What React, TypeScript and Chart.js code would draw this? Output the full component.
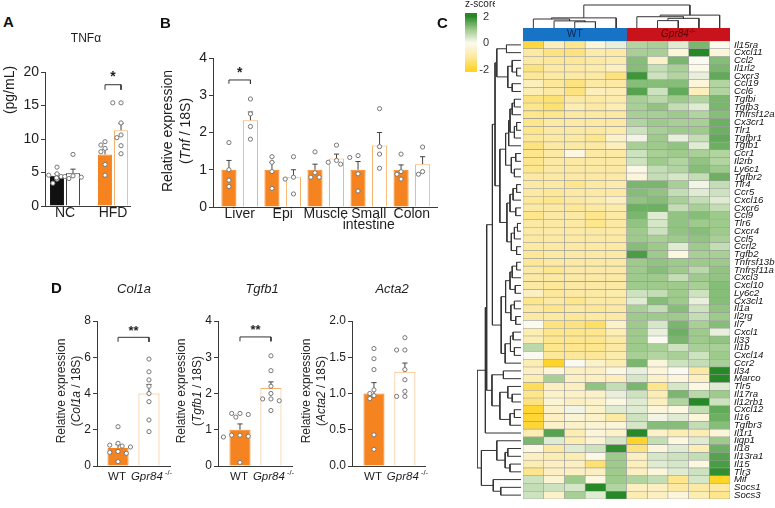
import React, { useEffect, useRef } from 'react';
import { Chart, registerables } from 'chart.js';

Chart.register(...registerables);

const FAM = "'Liberation Sans', Arial, Helvetica, sans-serif";
const ORANGE = '#F5831F';
const ORANGE_EDGE = '#F7B26A';
const AXIS = '#3a3a3a';
const TXT = '#1e1e1e';

// ---------------- Panel A : TNFα (pg/mL) ----------------
const A_GROUPS = ['NC', 'HFD'];
const A_MEANS = [4.5, 4.9, 7.7, 11.3];
const A_SEMS = [0.35, 0.6, 0.75, 1.0];
const A_PTS_NC_WT = [5.8, 4.8, 4.6, 4.4, 4.0, 3.4];
const A_PTS_NC_KO = [7.7, 4.5, 4.4, 4.3, 4.1, 4.2];
const A_PTS_HFD_WT = [9.6, 9.1, 8.6, 8.1, 6.2, 4.6];
const A_PTS_HFD_KO = [15.4, 15.4, 12.4, 10.6, 10.2, 9.0, 7.8];
const A_Y_TICKS = [0, 5, 10, 15, 20];

// ---------------- Panel B : Tnf / 18S per tissue ----------------
const B_TISSUES: (string | string[])[] = ['Liver', 'Epi', 'Muscle', ['Small', 'intestine'], 'Colon'];
const B_MEANS = [1.0, 2.33, 1.0, 0.8, 1.0, 1.3, 1.0, 1.65, 1.0, 1.15];
const B_SEMS = [0.25, 0.22, 0.2, 0.2, 0.15, 0.12, 0.22, 0.35, 0.13, 0.2];
const B_POINTS = [
  [1.73, 1.0, 0.72, 0.55],
  [2.9, 2.5, 2.16, 1.82],
  [1.35, 1.2, 0.95, 0.5],
  [1.35, 0.8, 0.75, 0.35],
  [1.48, 0.92, 0.8, 0.8],
  [1.66, 1.25, 1.2, 1.15],
  [1.38, 1.33, 0.89, 0.43],
  [2.64, 1.62, 1.42, 1.04],
  [1.42, 0.95, 0.88, 0.75],
  [1.61, 0.95, 0.88],
];
const B_Y_TICKS = [0, 1, 2, 3, 4];

// ---------------- Panel D ----------------
const D_GROUPS = ['WT', 'Gpr84'];
const D1_MEANS = [1.0, 4.0];
const D1_SEMS = [0.18, 0.5];
const D1_POINTS = [
  [2.17, 1.25, 1.15, 1.1, 1.05, 0.8, 0.75, 0.7, 0.24],
  [5.9, 5.2, 4.75, 4.4, 4.0, 3.55, 2.54, 1.9],
];
const D1_Y_TICKS = [0, 2, 4, 6, 8];
const D2_MEANS = [1.0, 2.15];
const D2_SEMS = [0.16, 0.17];
const D2_POINTS = [
  [1.45, 1.45, 1.42, 1.35, 0.85, 0.85, 0.82, 0.8, 0.1],
  [3.04, 2.63, 2.2, 2.0, 1.85, 1.85, 1.8, 1.53],
];
const D2_Y_TICKS = [0, 1, 2, 3, 4];
const D3_MEANS = [1.0, 1.3];
const D3_SEMS = [0.15, 0.12];
const D3_POINTS = [
  [1.62, 1.48, 1.33, 1.05, 1.0, 0.97, 0.93, 0.43, 0.23],
  [1.77, 1.6, 1.6, 1.33, 1.19, 1.03, 0.96, 0.96],
];
const D3_Y_TICKS = [0, 0.5, 1.0, 1.5, 2.0];

// ---------------- Panel C : heatmap ----------------
const HM_COLS = ['WT1', 'WT2', 'WT3', 'WT4', 'WT5', 'KO1', 'KO2', 'KO3', 'KO4', 'KO5'];
const HM_GROUPS = ['WT', 'Gpr84'];
const HM_GENES = [
  'Il15ra', 'Cxcl11', 'Ccl2', 'Il1rl2', 'Cxcr3', 'Ccl19', 'Ccl6', 'Tgfbi', 'Tgfb3', 'Tnfrsf12a',
  'Cx3cr1', 'Tlr1', 'Tgfbr1', 'Tgfb1', 'Ccr1', 'Il2rb', 'Ly6c1', 'Tgfbr2', 'Tlr4', 'Ccr5',
  'Cxcl16', 'Cxcr6', 'Ccl9', 'Tlr6', 'Cxcr4', 'Ccl5', 'Ccrl2', 'Tgfb2', 'Tnfrsf13b', 'Tnfrsf11a',
  'Cxcl3', 'Cxcl10', 'Ly6c2', 'Cx3cl1', 'Il1a', 'Il2rg', 'Il7', 'Cxcl1', 'Il33', 'Il1b',
  'Cxcl14', 'Ccr2', 'Il34', 'Marco', 'Tlr5', 'Il17ra', 'Il12rb1', 'Cxcl12', 'Il16', 'Tgfbr3',
  'Il1r1', 'Iigp1', 'Il18', 'Il13ra1', 'Il15', 'Tlr3', 'Mif', 'Socs1', 'Socs3',
];
const HM_Z: number[][] = [
  [-1.8, -0.7, -1.2, -0.3, 0.2, 0.8, 0.9, 0.3, 1.3, 0.0],
  [-1.0, -1.3, -1.3, -0.9, -1.0, 0.9, 0.9, -0.3, 2.0, -0.3],
  [-1.0, -1.1, -1.1, -1.0, -0.9, 1.2, -0.5, 1.3, 0.0, 1.2],
  [-1.3, -1.0, -1.0, -0.9, -0.6, 1.2, 0.6, 0.9, -0.1, 1.3],
  [-1.1, -1.0, -1.0, -1.0, -1.3, 1.8, 0.5, 0.8, 0.2, 1.5],
  [-0.7, -1.1, -1.3, -1.0, -1.0, 1.2, 1.2, 1.2, -0.3, 0.8],
  [-0.8, -1.0, -1.3, -0.7, -0.8, 1.6, 0.5, 1.5, -0.7, 0.8],
  [-1.3, -1.4, -1.0, -1.0, -0.9, 0.9, 0.7, 1.0, 0.8, 1.3],
  [-1.2, -1.4, -0.8, -1.0, -0.8, 0.9, 1.1, 0.6, 0.3, 1.3],
  [-1.2, -1.2, -1.0, -1.0, -1.0, 0.9, 0.9, 1.0, 0.8, 1.2],
  [-1.2, -1.0, -1.0, -1.0, -1.0, 0.8, 1.0, 0.9, 0.9, 1.4],
  [-1.2, -1.0, -1.0, -1.0, -0.9, 0.5, 0.9, 1.0, 1.0, 1.4],
  [-1.1, -1.0, -1.0, -1.2, -0.5, 0.1, 1.0, 0.2, 0.6, 1.5],
  [-1.3, -1.0, -1.0, -1.0, -0.7, 0.9, 1.0, 1.1, 0.3, 1.4],
  [-1.2, -1.0, -0.2, -1.0, -1.0, 0.5, 0.9, 1.0, 0.9, 0.8],
  [-1.2, -1.0, -1.0, -1.0, -1.0, 0.5, 1.0, 0.8, 1.1, 0.8],
  [-1.2, -1.0, -1.0, -1.0, -1.0, -0.1, 0.6, 0.8, 1.2, 1.0],
  [-1.0, -1.0, -1.0, -1.0, -1.0, -0.3, 0.6, 0.4, 0.6, 1.4],
  [-1.0, -1.0, -1.2, -1.0, -0.9, 1.3, 1.3, 0.9, 0.1, 0.6],
  [-1.0, -1.1, -1.0, -1.0, -1.0, 1.2, 1.1, 0.6, 0.3, 0.5],
  [-1.1, -1.2, -1.0, -0.9, -0.6, 1.1, 1.2, 0.9, 0.6, 0.3],
  [-1.0, -1.0, -1.1, -1.0, -0.9, 1.4, 1.4, 0.6, 0.9, 0.6],
  [-1.2, -1.0, -1.0, -1.2, -1.0, 1.3, 0.3, 1.1, 1.2, 1.0],
  [-1.0, -1.0, -1.0, -1.2, -1.0, 1.1, 0.4, 1.1, 1.0, 1.0],
  [-1.0, -1.0, -1.0, -1.0, -1.0, 1.0, 0.5, 1.1, 1.2, 1.0],
  [-1.0, -1.0, -1.0, -1.0, -1.0, 1.0, 0.9, 1.0, 1.1, 0.9],
  [-1.0, -1.0, -1.0, -1.0, -1.0, 1.2, 1.0, 0.3, 1.0, 0.6],
  [-1.1, -1.0, -1.0, -1.0, -1.0, 1.7, 1.0, -0.2, 0.9, 0.9],
  [-1.1, -1.0, -1.0, -1.0, -1.0, 1.0, 1.1, 1.0, 1.0, 1.0],
  [-1.0, -1.2, -1.0, -1.0, -1.0, 1.0, 1.2, 1.0, 0.7, 1.1],
  [-1.0, -1.0, -1.0, -1.0, -1.0, 1.0, 1.0, 0.6, 1.0, 1.1],
  [-1.0, -1.1, -1.0, -1.0, -1.0, 1.0, 1.0, 1.0, 0.9, 1.2],
  [-0.6, -1.1, -1.0, -1.0, -0.9, 0.5, 0.6, 1.0, 0.5, 1.2],
  [-1.2, -1.0, -1.2, -1.0, -1.0, 0.3, 1.2, 1.0, 0.2, 1.2],
  [-1.0, -1.2, -1.0, -1.1, -1.0, 0.9, 0.6, 1.2, 0.5, 1.1],
  [-1.0, -1.0, -1.1, -1.0, -1.0, 1.0, 1.0, 1.0, 0.6, 1.0],
  [0.0, -1.3, -1.3, -1.5, -0.5, 1.0, 0.4, 1.3, 0.9, 1.2],
  [-0.8, -1.2, -1.2, -1.2, -0.8, 1.0, 0.2, 1.4, 1.0, 0.2],
  [-0.8, -1.2, -1.2, -1.2, -1.0, 1.0, 0.0, 1.3, 1.0, 1.1],
  [0.7, -1.2, -1.2, -1.2, -1.0, 1.0, 0.9, 0.5, 0.9, 0.9],
  [0.0, -1.1, -1.1, -1.1, -0.9, 0.9, 0.8, 0.9, 0.5, 1.0],
  [-0.8, -2.0, 0.0, -0.5, -0.8, 1.3, -0.3, 0.5, 0.6, 0.9],
  [-0.6, -0.3, -0.6, -0.6, -0.2, 0.2, -0.3, 0.0, -1.0, 2.0],
  [-0.8, 0.9, -0.6, -0.6, -0.7, 0.4, -0.5, -0.3, -0.6, 2.0],
  [-1.6, -0.6, -0.6, 1.1, 0.6, 1.3, -1.2, 0.4, -0.2, 0.3],
  [-1.2, -0.5, -0.5, -0.5, 0.2, 0.5, -0.8, 1.3, 0.7, 1.0],
  [-1.3, -0.4, -0.6, -0.5, -0.2, 0.3, -0.6, 0.8, 2.0, 0.5],
  [-1.9, -0.5, 0.1, -0.5, 0.3, 0.3, -0.3, -0.2, 0.6, 1.5],
  [-1.9, -0.6, -0.4, -0.5, -1.0, 0.5, 0.1, 0.3, -0.3, 1.4],
  [-1.9, -0.5, -0.5, -0.4, -0.3, 0.4, 1.2, 1.2, 0.6, 1.2],
  [-0.8, 1.6, -0.8, -0.3, -0.5, 2.0, -0.5, -0.8, -0.8, -0.3],
  [1.3, 0.3, -0.8, -0.4, 0.4, -2.0, 0.6, -0.2, 0.3, 1.0],
  [-0.2, -1.0, 0.3, 0.5, 1.9, -1.3, -0.3, 0.3, -0.8, 1.4],
  [-0.6, -0.8, -0.8, -0.1, 1.0, -0.6, 0.4, 0.5, 0.6, 1.6],
  [-0.8, -0.6, -0.6, -1.4, 1.0, -0.7, 0.3, 0.4, -0.2, 1.7],
  [-1.2, -0.6, -0.6, -0.6, 1.0, -0.6, -0.3, 0.3, 0.5, 1.9],
  [0.5, -0.4, 1.0, -0.2, 1.0, 0.8, 0.6, -1.2, 0.4, -2.0],
  [0.6, 0.5, 0.4, 2.0, 0.8, -0.6, -0.6, -1.0, -1.0, -1.0],
  [0.5, -0.5, 0.9, 0.3, 2.0, -0.8, -0.6, -0.3, -0.8, -1.2],
];
const Z_TICKS = [-2, -1, 0, 1, 2];

// dendrograms: leaf = index, node = [left, right, height]
type TNode = number | [TNode, TNode, number];
const ROW_TREE: TNode = [
  [
    [
      [
        [
          [[0, 1, 3.3], [[2, [3, 4, 1.0], 2.0], [5, 6, 2.0], 3.0], 5.5],
          [
            [[[[[7, 8, 1.5], 9, 2.0], [[10, 11, 1.0], 12, 1.5], 2.5], 13, 2.8], [[14, 15, 1.2], [16, 17, 1.5], 2.2], 3.5],
            [[[[18, 19, 1.0], 20, 1.8], [21, 22, 1.2], 2.5], [[[23, 24, 0.8], 25, 1.5], [26, 27, 1.0], 2.2], 3.2],
            4.8,
          ],
          5.9,
        ],
        [
          [[[[28, 29, 1.0], 30, 2.0], [31, 32, 1.3], 2.5], [[33, 34, 1.5], [35, 36, 1.2], 2.3], 3.5],
          [[[37, 38, 1.8], [39, 40, 1.5], 2.4], 41, 3.6],
          4.5,
        ],
        6.5,
      ],
      [[42, 43, 4.0], [[44, [45, 46, 2.0], 3.0], [[47, 48, 1.5], 49, 2.5], 4.8], 6.6],
      7.8,
    ],
    50,
    8.1,
  ],
  [[51, [[52, 53, 3.0], [54, 55, 2.5], 3.6], 5.5], [56, [57, 58, 4.6], 6.3], 9.0],
  10,
];
const COL_TREE: TNode = [
  [[0, [1, [2, 3, 2.7], 3.1], 3.9], 4, 4.4],
  [[5, [[6, 7, 3.2], 8, 4.2], 4.9], 9, 5.6],
  10,
];

// ---------------- helpers ----------------
const Z_STOPS: [number, number[]][] = [
  [-2, [255, 212, 40]],
  [-1, [252, 234, 164]],
  [0, [251, 250, 240]],
  [1, [158, 202, 140]],
  [2, [38, 136, 38]],
];
function zColor(z: number): string {
  const v = Math.max(-2, Math.min(2, z));
  for (let i = 0; i < Z_STOPS.length - 1; i++) {
    const [a, ca] = Z_STOPS[i];
    const [b, cb] = Z_STOPS[i + 1];
    if (v <= b) {
      const t = (v - a) / (b - a);
      const c = ca.map((x, k) => Math.round(x + (cb[k] - x) * t));
      return `rgb(${c[0]},${c[1]},${c[2]})`;
    }
  }
  return 'rgb(38,136,38)';
}

function treeLines(node: TNode, out: { p: number; h: number }[]): { p: number; h: number } {
  if (typeof node === 'number') return { p: node, h: 0 };
  const a = treeLines(node[0], out);
  const b = treeLines(node[1], out);
  const H = node[2];
  out.push({ p: a.p, h: a.h }, { p: a.p, h: H }, { p: b.p, h: H }, { p: b.p, h: b.h }, { p: NaN, h: NaN });
  return { p: (a.p + b.p) / 2, h: H };
}

function swarm(vals: number[], pxX: number, pxY: number, d: number): number[] {
  const placed: { x: number; y: number }[] = [];
  return vals.map((v) => {
    const y = v * pxY;
    let chosen = 0;
    for (let k = 0; k < 30; k++) {
      const off = (k === 0 ? 0 : Math.ceil(k / 2) * (k % 2 ? -1 : 1)) * d * 0.9;
      if (placed.every((q) => Math.hypot(q.x - off, q.y - y) >= d)) {
        chosen = off;
        break;
      }
    }
    placed.push({ x: chosen, y });
    return chosen / pxX;
  });
}

type Run = { text: string; font: string; dy?: number };
type TextItem = {
  x?: number; xd?: number; y?: number; yd?: number; dx?: number;
  runs: Run[]; color?: string; align?: 'left' | 'center' | 'right'; rotate?: boolean;
};
function textPlugin(items: TextItem[], offX: number, offY: number) {
  return {
    id: 'texts',
    afterDraw(chart: any) {
      const ctx = chart.ctx;
      ctx.save();
      for (const it of items) {
        const px = (it.xd !== undefined ? chart.scales.x.getPixelForValue(it.xd) : (it.x as number) - offX) + (it.dx || 0);
        const py = it.yd !== undefined ? chart.scales.y.getPixelForValue(it.yd) : (it.y as number) - offY;
        if (!isFinite(px) || !isFinite(py)) continue;
        ctx.save();
        ctx.translate(px, py);
        if (it.rotate) ctx.rotate(-Math.PI / 2);
        ctx.fillStyle = it.color || TXT;
        ctx.textBaseline = 'middle';
        ctx.textAlign = 'left';
        let total = 0;
        const widths = it.runs.map((r) => {
          ctx.font = r.font;
          const w = ctx.measureText(r.text).width;
          total += w;
          return w;
        });
        let x0 = it.align === 'left' ? 0 : it.align === 'right' ? -total : -total / 2;
        it.runs.forEach((r, i) => {
          ctx.font = r.font;
          ctx.fillText(r.text, x0, r.dy || 0);
          x0 += widths[i];
        });
        ctx.restore();
      }
      ctx.restore();
    },
  };
}

const f = (size: number, style = '') => `${style} ${size}px ${FAM}`.trim();

interface BarPanel {
  cx: number; cy: number; cw: number; ch: number;
  l: number; t: number; r: number; b: number;
  xMin: number; xMax: number; yMax: number; yTicks: number[]; yFmt: (v: number) => string;
  barX: number[]; means: number[]; sems: number[]; points: number[][];
  fills: string[]; edges: string[]; barPct: number;
  xTicks: number[]; xLabels: (string | string[])[]; showXLabels: boolean; xH: number;
  fontSize: number;
  brackets: { a: number; b: number; y: number; drop: number; label: string; ly: number; size: number }[];
  texts: TextItem[];
}

function makeBarConfig(p: BarPanel): any {
  const pxX = (p.r - p.l) / (p.xMax - p.xMin);
  const pxY = (p.b - p.t) / p.yMax;
  const cap = 2.6 / pxX;
  const err: any[] = [];
  p.barX.forEach((x, i) => {
    const m = p.means[i], s = p.sems[i];
    err.push({ x, y: m }, { x, y: m + s }, { x, y: NaN }, { x: x - cap, y: m + s }, { x: x + cap, y: m + s }, { x, y: NaN });
  });
  const br: any[] = [];
  const texts: TextItem[] = [...p.texts];
  p.brackets.forEach((k) => {
    const xa = p.barX[k.a], xb = p.barX[k.b];
    br.push({ x: xa, y: k.y - k.drop }, { x: xa, y: k.y }, { x: xb, y: k.y }, { x: xb, y: k.y - k.drop }, { x: xb, y: NaN });
    texts.push({ xd: (xa + xb) / 2, yd: k.ly, runs: [{ text: k.label, font: f(k.size, 'bold') }] });
  });
  const pts: any[] = [];
  p.points.forEach((vals, i) => {
    const offs = swarm(vals, pxX, pxY, 4.6);
    vals.forEach((v, j) => pts.push({ x: p.barX[i] + offs[j], y: v }));
  });
  const yW = p.l - p.cx;
  return {
    type: 'bar',
    data: {
      datasets: [
        { type: 'scatter', data: pts, pointRadius: 2.1, pointHoverRadius: 2.1, pointBackgroundColor: '#ffffff', pointBorderColor: '#777777', pointBorderWidth: 1, order: 0 },
        { type: 'line', data: br, borderColor: '#333333', borderWidth: 1, pointRadius: 0, spanGaps: false, fill: false, order: 1 },
        { type: 'line', data: err, borderColor: '#444444', borderWidth: 1, pointRadius: 0, spanGaps: false, fill: false, order: 1 },
        {
          type: 'bar',
          data: p.barX.map((x, i) => ({ x, y: p.means[i] })),
          backgroundColor: p.fills, borderColor: p.edges, borderWidth: 1,
          barPercentage: p.barPct, categoryPercentage: 1, order: 2,
        },
      ],
    },
    options: {
      responsive: false, animation: false, devicePixelRatio: 1,
      events: [],
      layout: { padding: { left: 0, top: p.t - p.cy, right: p.cx + p.cw - p.r, bottom: p.cy + p.ch - p.b - p.xH } },
      plugins: { legend: { display: false }, tooltip: { enabled: false } },
      scales: {
        x: {
          type: 'linear', min: p.xMin, max: p.xMax, offset: false,
          afterBuildTicks: (s: any) => { s.ticks = p.xTicks.map((v) => ({ value: v })); },
          afterFit: (s: any) => { s.height = p.xH; },
          grid: { display: false, drawTicks: false, offset: false },
          border: { display: true, color: AXIS, width: 1 },
          ticks: {
            display: p.showXLabels, autoSkip: false, maxRotation: 0, padding: 1,
            callback: (_v: any, i: number) => p.xLabels[i],
            font: { family: FAM, size: p.fontSize, lineHeight: 0.82 }, color: TXT,
          },
        },
        y: {
          type: 'linear', min: 0, max: p.yMax,
          afterBuildTicks: (s: any) => { s.ticks = p.yTicks.map((v) => ({ value: v })); },
          afterFit: (s: any) => { s.width = yW; },
          grid: { display: true, drawOnChartArea: false, drawTicks: true, tickLength: 4, color: AXIS },
          border: { display: true, color: AXIS, width: 1 },
          ticks: { padding: 2, callback: (v: any) => p.yFmt(Number(v)), font: { family: FAM, size: p.fontSize }, color: TXT },
        },
      },
    },
    plugins: [textPlugin(texts, p.cx, p.cy)],
  };
}

const dLabel = (xd: number, i: number, size: number): TextItem =>
  i === 0
    ? { xd, y: 477, dx: -1, runs: [{ text: D_GROUPS[0], font: f(size) }] }
    : { xd, y: 477, dx: 2.5, runs: [{ text: D_GROUPS[1], font: f(size, 'italic') }, { text: ' -/-', font: f(7.5), dy: -4 }] };

const yTitle2 = (x1: number, x2: number, y: number, gene: string, size: number): TextItem[] => [
  { x: x1, y, rotate: true, runs: [{ text: 'Relative expression', font: f(size) }] },
  { x: x2, y, rotate: true, runs: [{ text: '(', font: f(size) }, { text: gene, font: f(size, 'italic') }, { text: ' / 18S)', font: f(size) }] },
];

function panelA(): any {
  return makeBarConfig({
    cx: 0, cy: 30, cw: 140, ch: 200, l: 45, t: 72, r: 130, b: 206,
    xMin: -0.75, xMax: 4.56, yMax: 20, yTicks: A_Y_TICKS, yFmt: (v) => String(v),
    barX: [0, 1, 3, 4], means: A_MEANS, sems: A_SEMS,
    points: [A_PTS_NC_WT, A_PTS_NC_KO, A_PTS_HFD_WT, A_PTS_HFD_KO],
    fills: ['#111111', '#ffffff', ORANGE, '#ffffff'], edges: ['#111111', '#333333', ORANGE, ORANGE_EDGE], barPct: 0.88,
    xTicks: [0.5, 3.5], xLabels: A_GROUPS, showXLabels: true, xH: 22, fontSize: 14,
    brackets: [{ a: 2, b: 3, y: 18.1, drop: 0.75, label: '*', ly: 19.3, size: 14 }],
    texts: [
      { x: 86, y: 39, runs: [{ text: 'TNFα', font: f(12) }] },
      { x: 10, y: 90, rotate: true, runs: [{ text: '(pg/mL)', font: f(14) }] },
    ],
  });
}

function panelB(): any {
  return makeBarConfig({
    cx: 150, cy: 30, cw: 297, ch: 215, l: 213, t: 58, r: 437, b: 207,
    xMin: -0.74, xMax: 9.67, yMax: 4, yTicks: B_Y_TICKS, yFmt: (v) => String(v),
    barX: [0, 1, 2, 3, 4, 5, 6, 7, 8, 9], means: B_MEANS, sems: B_SEMS, points: B_POINTS,
    fills: B_MEANS.map((_, i) => (i % 2 ? '#ffffff' : ORANGE)),
    edges: B_MEANS.map((_, i) => (i % 2 ? ORANGE_EDGE : ORANGE)), barPct: 0.7,
    xTicks: [0.5, 2.5, 4.5, 6.5, 8.5], xLabels: B_TISSUES, showXLabels: true, xH: 30, fontSize: 14,
    brackets: [{ a: 0, b: 1, y: 3.41, drop: 0.1, label: '*', ly: 3.6, size: 14 }],
    texts: yTitle2(168, 186, 131, 'Tnf', 14),
  });
}

function panelD(
  cx: number, cw: number, l: number, r: number, xMin: number, xMax: number, yMax: number,
  yTicks: number[], yFmt: (v: number) => string, means: number[], sems: number[], points: number[][],
  gene: string, titleX: number, t1: number, t2: number,
  brackets: BarPanel['brackets'],
): any {
  return makeBarConfig({
    cx, cy: 275, cw, ch: 225, l, t: 321, r, b: 466,
    xMin, xMax, yMax, yTicks, yFmt, barX: [0, 1], means, sems, points,
    fills: [ORANGE, '#ffffff'], edges: [ORANGE, ORANGE_EDGE], barPct: 0.68,
    xTicks: [0, 1], xLabels: ['', ''], showXLabels: false, xH: 20, fontSize: 12,
    brackets,
    texts: [
      { x: titleX, y: 289, runs: [{ text: gene, font: f(13, 'italic') }] },
      ...yTitle2(t1, t2, 391, gene, 12),
      dLabel(0, 0, 11.5),
      dLabel(1, 1, 11.5),
    ],
  });
}

function heatmapConfig(): any {
  return {
    type: 'bar',
    data: {
      labels: HM_GENES,
      datasets: HM_COLS.map((_, c) => ({
        data: HM_GENES.map(() => [c, c + 1]),
        backgroundColor: HM_GENES.map((_g, r) => zColor(HM_Z[r][c])),
        borderColor: '#9c9c9c', borderWidth: 0.6, borderSkipped: false,
        barPercentage: 1, categoryPercentage: 1, grouped: false,
      })),
    },
    options: {
      indexAxis: 'y', responsive: false, animation: false, devicePixelRatio: 1, events: [],
      layout: { padding: { left: 3, top: 11, right: 0, bottom: 11 } },
      plugins: { legend: { display: false }, tooltip: { enabled: false } },
      scales: {
        x: { type: 'linear', min: 0, max: 10, display: false },
        y: {
          type: 'category', position: 'right',
          afterFit: (s: any) => { s.width = 45; },
          grid: { display: false, drawTicks: false }, border: { display: false },
          ticks: { autoSkip: false, padding: 4, font: { family: FAM, size: 9.6, style: 'italic', lineHeight: 1 }, color: '#111' },
        },
      },
    },
  };
}

function rowDendroConfig(): any {
  const out: { p: number; h: number }[] = [];
  treeLines(ROW_TREE, out);
  return {
    type: 'scatter',
    data: { datasets: [{ data: out.map((q) => ({ x: q.h, y: q.p })), showLine: true, borderColor: '#333', borderWidth: 1, pointRadius: 0, spanGaps: false }] },
    options: {
      responsive: false, animation: false, devicePixelRatio: 1, events: [],
      layout: { padding: { left: 7, top: 11, right: 4, bottom: 11 } },
      plugins: { legend: { display: false }, tooltip: { enabled: false } },
      scales: {
        x: { type: 'linear', min: 0, max: 10, reverse: true, display: false },
        y: { type: 'linear', min: -0.5, max: HM_GENES.length - 0.5, reverse: true, display: false },
      },
    },
  };
}

function colDendroConfig(): any {
  const out: { p: number; h: number }[] = [];
  treeLines(COL_TREE, out);
  return {
    type: 'scatter',
    data: { datasets: [{ data: out.map((q) => ({ x: q.p + 0.5, y: q.h })), showLine: true, borderColor: '#333', borderWidth: 1, pointRadius: 0, spanGaps: false, clip: 4 }] },
    options: {
      responsive: false, animation: false, devicePixelRatio: 1, events: [],
      layout: { padding: { left: 8, top: 5, right: 10, bottom: 4 } },
      plugins: { legend: { display: false }, tooltip: { enabled: false } },
      scales: {
        x: { type: 'linear', min: 0, max: 10, display: false },
        y: { type: 'linear', min: 0, max: 10, display: false },
      },
    },
  };
}

function headerConfig(): any {
  return {
    type: 'bar',
    data: {
      labels: ['group'],
      datasets: [
        { data: [[0, 5]], backgroundColor: '#1673C6', borderWidth: 0, barPercentage: 1, categoryPercentage: 1, grouped: false },
        { data: [[5, 10]], backgroundColor: '#C8121C', borderWidth: 0, barPercentage: 1, categoryPercentage: 1, grouped: false },
      ],
    },
    options: {
      indexAxis: 'y', responsive: false, animation: false, devicePixelRatio: 1, events: [],
      layout: { padding: { left: 8, top: 3, right: 10, bottom: 4 } },
      plugins: { legend: { display: false }, tooltip: { enabled: false } },
      scales: { x: { type: 'linear', min: 0, max: 10, display: false }, y: { display: false } },
    },
    plugins: [
      textPlugin(
        [
          { xd: 2.5, yd: 0, color: '#0c2550', runs: [{ text: HM_GROUPS[0], font: f(10) }] },
          { xd: 7.5, yd: 0, color: '#5a0508', runs: [{ text: HM_GROUPS[1], font: f(10, 'italic') }, { text: '-/-', font: f(7), dy: -3 }] },
        ],
        515, 25,
      ),
    ],
  };
}

// colour-bar legend: a stack of thin floating bars along the z range
const CB_MIN = -2.15;
const CB_MAX = 2.26;
function colorbarConfig(): any {
  const n = 44;
  const step = (CB_MAX - CB_MIN) / n;
  const segs = Array.from({ length: n }, (_, i) => CB_MIN + i * step);
  return {
    type: 'bar',
    data: {
      labels: ['z'],
      datasets: segs.map((z0) => ({
        data: [[z0, z0 + step * 1.02]],
        backgroundColor: zColor(z0 + step / 2),
        borderWidth: 0, barPercentage: 1, categoryPercentage: 1, grouped: false,
      })),
    },
    options: {
      responsive: false, animation: false, devicePixelRatio: 1, events: [],
      layout: { padding: { left: 45, top: 13, right: 6, bottom: 13 } },
      plugins: { legend: { display: false }, tooltip: { enabled: false } },
      scales: {
        x: { display: false },
        y: {
          position: 'right', min: CB_MIN, max: CB_MAX,
          afterBuildTicks: (s: any) => { s.ticks = Z_TICKS.map((v) => ({ value: v })); },
          afterFit: (s: any) => { s.width = 12; },
          grid: { display: false, drawTicks: false }, border: { display: false },
          ticks: { crossAlign: 'far', padding: 0, font: { family: FAM, size: 11 }, color: '#333' },
        },
      },
    },
    plugins: [textPlugin([{ x: 465, y: 4, align: 'left', runs: [{ text: 'z-score', font: f(10) }] }], 420, 0)],
  };
}

function ChartCanvas(props: { left: number; top: number; width: number; height: number; make: () => any }) {
  const ref = useRef<HTMLCanvasElement>(null);
  useEffect(() => {
    let chart: Chart | null = null;
    try {
      chart = new Chart(ref.current as HTMLCanvasElement, props.make());
    } catch (e) {
      console.error(e);
    }
    return () => { if (chart) chart.destroy(); };
  }, []);
  return (
    <canvas
      ref={ref}
      width={props.width}
      height={props.height}
      style={{ position: 'absolute', left: props.left, top: props.top, width: props.width, height: props.height }}
    />
  );
}

const letter = (ch: string, left: number, baseline: number) => (
  <div
    key={ch}
    style={{ position: 'absolute', left, top: baseline - 12.7, font: `bold 15px ${FAM}`, lineHeight: '15px', color: '#111' }}
  >
    {ch}
  </div>
);

export default function App() {
  return (
    <div style={{ position: 'absolute', left: 0, top: 0, width: 775, height: 508, background: '#fff', overflow: 'hidden' }}>
      <ChartCanvas left={0} top={30} width={140} height={200} make={panelA} />
      <ChartCanvas left={150} top={30} width={297} height={215} make={panelB} />
      <ChartCanvas
        left={40} top={275} width={140} height={225}
        make={() => panelD(40, 140, 97, 170, -0.68, 1.68, 8, D1_Y_TICKS, (v) => String(v), D1_MEANS, D1_SEMS, D1_POINTS, 'Col1a', 134, 62, 77,
          [{ a: 0, b: 1, y: 7.1, drop: 0.25, label: '**', ly: 7.45, size: 13 }])}
      />
      <ChartCanvas
        left={175} top={275} width={127} height={225}
        make={() => panelD(175, 127, 218, 292, -0.71, 1.68, 4, D2_Y_TICKS, (v) => String(v), D2_MEANS, D2_SEMS, D2_POINTS, 'Tgfb1', 262, 182, 198,
          [{ a: 0, b: 1, y: 3.56, drop: 0.12, label: '**', ly: 3.74, size: 13 }])}
      />
      <ChartCanvas
        left={300} top={275} width={135} height={225}
        make={() => panelD(300, 135, 352, 425, -0.71, 1.65, 2, D3_Y_TICKS, (v) => v.toFixed(1), D3_MEANS, D3_SEMS, D3_POINTS, 'Acta2', 392, 307, 322, [])}
      />
      <ChartCanvas left={420} top={0} width={75} height={85} make={colorbarConfig} />
      <ChartCanvas left={515} top={0} width={225} height={32} make={colDendroConfig} />
      <ChartCanvas left={470} top={30} width={55} height={480} make={rowDendroConfig} />
      <ChartCanvas left={520} top={30} width={255} height={480} make={heatmapConfig} />
      <ChartCanvas left={515} top={25} width={225} height={20} make={headerConfig} />
      {letter('A', 3, 27)}
      {letter('B', 160, 28)}
      {letter('C', 437, 28)}
      {letter('D', 51, 293)}
    </div>
  );
}
